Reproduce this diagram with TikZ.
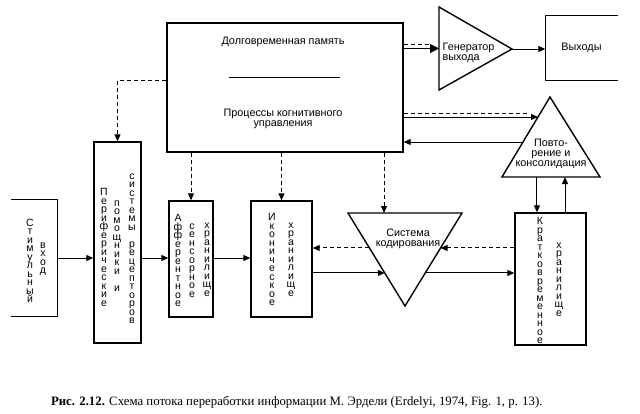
\documentclass[tikz,border=0pt]{standalone}
\usepackage{fontspec}
\setmainfont{Liberation Serif}
\setsansfont{Liberation Sans}
\usetikzlibrary{arrows.meta,calc}

\newcommand\vword[1]{\vbox{\baselineskip=8.5pt\lineskiplimit=-20pt\vwordloop#1\relax}}
\def\vwordloop#1{\ifx#1\relax\else\hbox to 1em{\hss#1\hss}\expandafter\vwordloop\fi}

\tikzset{
  blk/.style={draw=none,inner sep=0pt},
  stack/.style={anchor=north,inner sep=0pt,font=\sffamily\fontsize{10.5}{8.5}\selectfont},
  arr/.style={line width=1pt,-{Triangle[length=7pt,width=6pt]}},
  bigarr/.style={line width=1pt,-{Triangle[length=9pt,width=9pt]}},
  dashline/.style={line width=1pt,dash pattern=on 4pt off 3pt}
}

\begin{document}
\begin{tikzpicture}[x=1pt,y=-1pt,line width=1.4pt,font=\sffamily\fontsize{10.8}{12}\selectfont]
             \useasboundingbox (0,0) rectangle (640,413);

             \node[blk,minimum width=45pt,minimum height=116pt] (stim) at (34.5,258) {};
             \node[blk,draw,minimum width=47pt,minimum height=201pt] (periph) at (117.5,242.5) {};
             \node[blk,draw,minimum width=44pt,minimum height=116pt] (aff) at (191,259) {};
             \node[blk,draw,minimum width=61pt,minimum height=116pt] (icon) at (281.5,259) {};
             \node[blk,draw,minimum width=71pt,minimum height=132pt] (stm) at (550.5,279) {};
             \node[blk,draw,minimum width=236pt,minimum height=129pt] (ltm) at (285,87.5) {};
             \node[blk,minimum width=71pt,minimum height=64pt] (out) at (581.5,48) {Выходы};
             \draw (stim.north west) -- (stim.north east) -- (stim.south east) -- (stim.south west);
             \draw (out.north east) -- (out.north west) -- (out.south west) -- (out.south east);

             \node[stack] (stimA) at (30,218) {\vword{Стимульный}};
             \node[stack] (stimB) at (43,242) {\vword{вход}};
             \node[stack] (periphA) at (104,188) {\vword{Периферические}};
             \node[stack] (periphB) at (117,200) {\vword{помощники~и}};
             \node[stack] (periphC) at (132,173) {\vword{системы~рецепторов}};
             \node[stack] (affA) at (178,214) {\vword{Афферентное}};
             \node[stack] (affB) at (192,223) {\vword{сенсорное}};
             \node[stack] (affC) at (207,222) {\vword{хранилище}};
             \node[stack] (iconA) at (272,213) {\vword{Иконическое}};
             \node[stack] (iconB) at (291,222) {\vword{хранилище}};
             \node[stack] (stmA) at (540,217) {\vword{Кратковременное}};
             \node[stack] (stmB) at (559,242) {\vword{хранилище}};

             \node (ltmA) at (283,42) {Долговременная память};
             \draw[line width=.8pt] (229,77) -- (340,77);
             \node[align=center] (ltmB) at (283,119) {Процессы когнитивного\\[-2pt]управления};

             \coordinate (genA) at (439,7);
             \coordinate (genB) at (439,90);
             \coordinate (genC) at (512,49);
             \draw (genA) -- (genC) -- (genB) -- cycle;
             \node[align=left,anchor=west,inner sep=0pt] (genT) at (442,53) {Генератор\\[-2pt]выхода};

             \coordinate (rehT) at (550,97);
             \coordinate (rehL) at (502,177);
             \coordinate (rehR) at (600,177);
             \draw (rehT) -- (rehR) -- (rehL) -- cycle;
             \node[align=center,inner sep=0pt] (rehX) at (551,154) {Повто-\\[-2pt]рение и\\[-2pt]консолидация};

             \coordinate (codA) at (348,213);
             \coordinate (codB) at (462,213);
             \coordinate (codC) at (405,306);
             \draw (codA) -- (codB) -- (codC) -- cycle;
             \node[align=center,inner sep=0pt] (codX) at (408,239) {Система\\[-2pt]кодирования};

             \coordinate (row) at (0,258);
             \draw[arr] (stim.east |- row) -- (periph.west |- row);
             \draw[arr] (periph.east |- row) -- (aff.west |- row);
             \draw[arr] (aff.east |- row) -- (icon.west |- row);

             \coordinate (codL1) at ($(codA)!0.376!(codC)$);
             \coordinate (codL2) at ($(codA)!0.645!(codC)$);
             \coordinate (codR1) at ($(codB)!0.376!(codC)$);
             \coordinate (codR2) at ($(codB)!0.645!(codC)$);
             \draw[arr,dashline] (codL1) -- (codL1 -| icon.east);
             \draw[arr] (icon.east |- codL2) -- (codL2);
             \draw[arr,dashline] (stm.west |- codR1) -- (codR1);
             \draw[arr] (codR2) -- (codR2 -| stm.west);

             \coordinate (rehB1) at ($(rehL)!0.357!(rehR)$);
             \coordinate (rehB2) at ($(rehL)!0.643!(rehR)$);
             \draw[arr] (rehB1) -- (rehB1 |- stm.north);
             \draw[arr] (stm.north -| rehB2) -- (rehB2);
             \coordinate (rehS1) at ($(rehT)!0.25!(rehL)$);
             \coordinate (rehS2) at ($(rehT)!0.5625!(rehL)$);
             \draw[arr] (ltm.east |- rehS1) -- (rehS1);
             \draw[dashline] ($(ltm.east |- rehS1)+(0,-4)$) -- ($(rehS1)+(-9,-4)$);
             \draw[arr] (rehS2) -- (rehS2 -| ltm.east);

             \coordinate (genIn) at ($(genA)!0.5!(genB)$);
             \draw[bigarr] (ltm.east |- genIn) -- (genIn);
             \draw[dashline] ($(ltm.east |- genIn)+(0,-4)$) -- ($(genIn)+(-10,-4)$);
             \draw[arr] (genC) -- (genC -| out.west);

             \coordinate (codTop) at ($(codA)!0.316!(codB)$);
             \draw[arr,dashline] (ltm.south -| aff.north) -- (aff.north);
             \draw[arr,dashline] (ltm.south -| icon.north) -- (icon.north);
             \draw[arr,dashline] (ltm.south -| codTop) -- (codTop);
             \draw[arr,dashline] ($(ltm.north west)!0.45!(ltm.south west)$) -| (periph.north);

             \node[anchor=west,font=\rmfamily\fontsize{12.8}{14}\selectfont] (caption) at (47,402)
               {\textbf{Рис. 2.12.} Схема потока переработки информации М. Эрдели (Erdelyi, 1974, Fig. 1, p. 13).};
\end{tikzpicture}
\end{document}
